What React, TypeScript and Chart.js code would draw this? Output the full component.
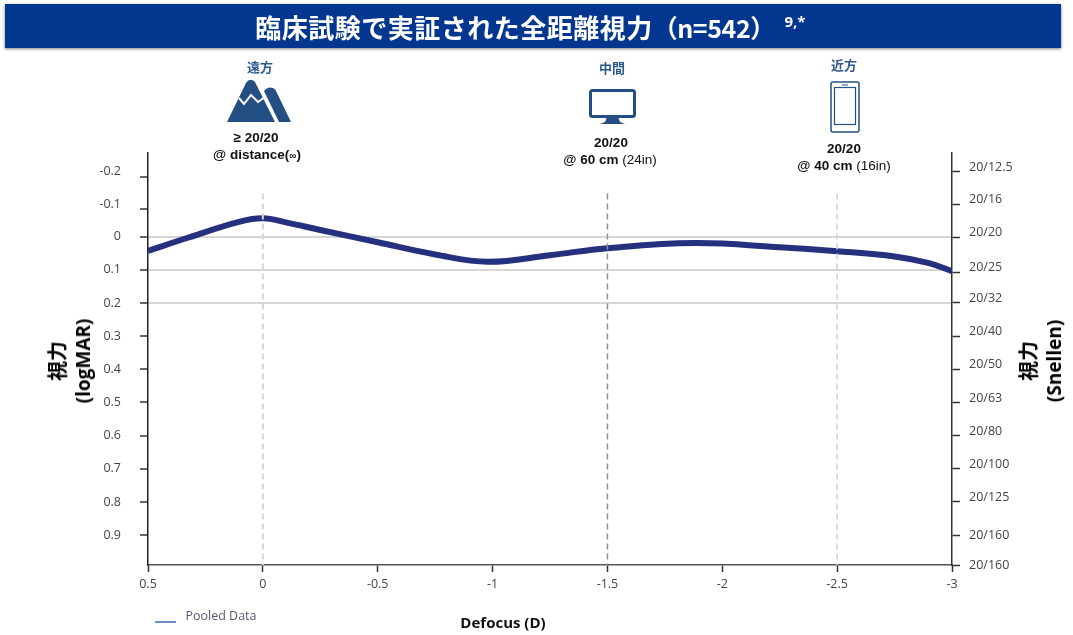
import { useEffect, useRef } from 'react'
import type { CSSProperties, ReactNode } from 'react'
import { Chart, registerables } from 'chart.js'

Chart.register(...registerables)

const defocus = [0.5, 0.32, 0.1, 0, -0.1, -0.25, -0.5, -0.75, -0.98, -1.25, -1.5, -1.88, -2.25, -2.5, -2.75, -2.9, -3]
const acuity = [0.043, 0.002, -0.045, -0.055, -0.043, -0.02, 0.017, 0.054, 0.076, 0.056, 0.035, 0.0196, 0.032, 0.044, 0.06, 0.08, 0.104]

// the top of the printed axis is squeezed: -0.2 and -0.1 sit lower than an even scale would put them
const logMarPositions = [-0.18, -0.083, 0, 0.1, 0.2, 0.3, 0.4, 0.5, 0.6, 0.7, 0.8, 0.9]
const logMarLabels = ['-0.2', '-0.1', '0', '0.1', '0.2', '0.3', '0.4', '0.5', '0.6', '0.7', '0.8', '0.9']
const snellenPositions = [-0.195, -0.098, 0.002, 0.107, 0.2, 0.3, 0.4, 0.5, 0.6, 0.7, 0.8, 0.9, 0.99]
const snellenLabels = ['20/12.5', '20/16', '20/20', '20/25', '20/32', '20/40', '20/50', '20/63', '20/80', '20/100', '20/125', '20/160', '20/160']
const solidGrid = [0, 0.1, 0.2]
const guideTop = -0.13
const yMin = -0.252
const yMax = 0.99

const jp = '"Noto Sans CJK JP", "Open Sans", sans-serif'
const sans = '"Open Sans", "Noto Sans", sans-serif'
const iconBlue = '#234f82'

function Text({ x, y, style, children }: { x: number; y: number; style?: CSSProperties; children: ReactNode }) {
  return (
    <div style={{ position: 'absolute', left: x, top: y, transform: 'translate(-50%, -50%)', whiteSpace: 'nowrap', ...style }}>
      {children}
    </div>
  )
}

export default function App() {
  const canvasRef = useRef<HTMLCanvasElement>(null)

  useEffect(() => {
    if (!canvasRef.current) return

    const guide = (x: number, color: string, width: number) => ({
      label: `guide ${x}`,
      data: [{ x, y: guideTop }, { x, y: yMax }],
      borderColor: color,
      borderWidth: width,
      borderDash: [6, 4],
      pointRadius: 0,
    })

    const chart = new Chart(canvasRef.current, {
      type: 'line',
      data: {
        datasets: [
          guide(0, '#d6d6d6', 2),
          guide(-1.5, '#909090', 1.5),
          guide(-2.5, '#d2d2d2', 1.5),
          {
            label: 'Pooled Data',
            data: defocus.map((x, i) => ({ x, y: acuity[i] })),
            borderColor: '#25307f',
            borderWidth: 6,
            tension: 0.4,
            pointRadius: 0,
          },
        ],
      },
      options: {
        responsive: false,
        animation: false,
        layout: { padding: { top: 153 } },
        plugins: { legend: { display: false }, tooltip: { enabled: false } },
        scales: {
          x: {
            type: 'linear',
            reverse: true,
            min: -3,
            max: 0.5,
            afterFit: scale => { scale.height = 70 },
            border: { color: '#555', width: 1.5 },
            grid: { drawOnChartArea: false, tickLength: 7, tickColor: '#333', tickWidth: 1.5 },
            ticks: {
              stepSize: 0.5,
              padding: 5,
              maxRotation: 0,
              color: '#444',
              font: { family: sans, size: 12.5 },
              callback: val => String(val),
            },
          },
          y: {
            type: 'linear',
            position: 'left',
            reverse: true,
            min: yMin,
            max: yMax,
            afterFit: scale => { scale.width = 148 },
            afterBuildTicks: scale => { scale.ticks = logMarPositions.map(value => ({ value })) },
            border: { color: '#222', width: 1.5 },
            grid: {
              color: ctx => (solidGrid.includes(ctx.tick?.value) ? '#d6d6d6' : 'transparent'),
              lineWidth: 2,
              tickLength: 8,
              tickColor: '#333',
              tickWidth: 1.5,
            },
            ticks: {
              padding: 19,
              color: '#444',
              font: { family: sans, size: 12.5, lineHeight: 0.8 },
              // negative labels sit a little above their ticks in the original
              callback: (_val, i) => (i < 2 ? [logMarLabels[i], ''] : logMarLabels[i]),
            },
          },
          y2: {
            type: 'linear',
            position: 'right',
            reverse: true,
            min: yMin,
            max: yMax,
            afterFit: scale => { scale.width = 121 },
            afterBuildTicks: scale => { scale.ticks = snellenPositions.map(value => ({ value })) },
            border: { color: '#333', width: 1.5 },
            grid: { drawOnChartArea: false, tickLength: 8, tickColor: '#333', tickWidth: 1.5 },
            ticks: {
              padding: 9,
              color: '#444',
              font: { family: sans, size: 12.5, lineHeight: 0.7 },
              callback: (_val, i) => (i < 11 ? [snellenLabels[i], ''] : snellenLabels[i]),
            },
          },
        },
      },
    })

    return () => chart.destroy()
  }, [])

  const axisTitle: CSSProperties = { fontFamily: sans, fontWeight: 700, fontSize: 19, lineHeight: '27px', color: '#000', textAlign: 'center' }
  const zone: CSSProperties = { fontFamily: jp, fontWeight: 700, fontSize: 13, color: '#2c5a8f' }
  const note: CSSProperties = { fontFamily: '"Liberation Sans", sans-serif', fontSize: 13.5, color: '#111' }

  return (
    <div style={{ position: 'absolute', left: 0, top: 0, width: 1073, height: 635, background: '#fff', overflow: 'hidden' }}>
      <canvas ref={canvasRef} width={1073} height={635} style={{ position: 'absolute', left: 0, top: 0 }} />

      {/* Banner */}
      <div style={{ position: 'absolute', left: 5, top: 4, width: 1056, height: 44, background: '#03378f', boxShadow: '0 1px 3px rgba(0,0,0,0.5)' }} />
      <Text x={515} y={26} style={{ fontFamily: jp, fontWeight: 700, fontSize: 26, letterSpacing: 0.5, color: '#fff' }}>
        臨床試験で実証された全距離視力<span style={{ fontSize: 25, letterSpacing: -0.4 }}>（n=542）</span>
      </Text>
      <Text x={795} y={21} style={{ fontFamily: sans, fontWeight: 700, fontSize: 15, color: '#fff' }}>9,*</Text>

      {/* Far */}
      <Text x={260} y={66} style={zone}>遠方</Text>
      <svg style={{ position: 'absolute', left: 226, top: 78 }} width={66} height={46} viewBox="0 0 66 46">
        <path d="M1 44 L20 5 Q24 -1 29 4 L49 44 Z" fill={iconBlue} />
        <path d="M38 13 Q42 8 47 10 Q49 11 50 13 L65 44 L53 44 Z" fill={iconBlue} />
        <polyline points="13,20 18,26 25,17 32,24 39,19" fill="none" stroke="#fff" strokeWidth={2} />
      </svg>
      <Text x={256} y={137} style={{ ...note, fontWeight: 700 }}>≥ 20/20</Text>
      <Text x={257} y={154} style={{ ...note, fontWeight: 700 }}>@ distance(<span style={{ fontSize: 10 }}>∞</span>)</Text>

      {/* Intermediate */}
      <Text x={612} y={67} style={zone}>中間</Text>
      <svg style={{ position: 'absolute', left: 589, top: 88 }} width={47} height={38} viewBox="0 0 47 38">
        <rect x={1.5} y={2.5} width={44} height={26} rx={2} fill="none" stroke={iconBlue} strokeWidth={3} />
        <path d="M18 29 L29 29 L31 34 L36 36 L11 36 L16 34 Z" fill={iconBlue} />
      </svg>
      <Text x={611} y={142} style={{ ...note, fontWeight: 700 }}>20/20</Text>
      <Text x={610} y={159} style={note}><b>@ 60 cm</b> (24in)</Text>

      {/* Near */}
      <Text x={844} y={64} style={zone}>近方</Text>
      <svg style={{ position: 'absolute', left: 830, top: 81 }} width={30} height={52} viewBox="0 0 30 52">
        <rect x={1} y={1} width={28} height={50} rx={2} fill="none" stroke={iconBlue} strokeWidth={1.5} />
        <rect x={4.5} y={6.5} width={21} height={37} fill="none" stroke={iconBlue} strokeWidth={1.2} />
        <line x1={12} y1={4} x2={18} y2={4} stroke={iconBlue} strokeWidth={1} />
      </svg>
      <Text x={844} y={148} style={{ ...note, fontWeight: 700 }}>20/20</Text>
      <Text x={844} y={165} style={note}><b>@ 40 cm</b> (16in)</Text>

      {/* Axis titles */}
      <Text x={70} y={361} style={{ ...axisTitle, transform: 'translate(-50%, -50%) rotate(-90deg)' }}>
        <div style={{ fontFamily: jp, fontSize: 20 }}>視力</div>
        <div>(logMAR)</div>
      </Text>
      <Text x={1041} y={361} style={{ ...axisTitle, transform: 'translate(-50%, -50%) rotate(-90deg)' }}>
        <div style={{ fontFamily: jp, fontSize: 20 }}>視力</div>
        <div>(Snellen)</div>
      </Text>
      <Text x={503} y={622} style={{ fontFamily: sans, fontWeight: 700, fontSize: 15, color: '#111' }}>Defocus (D)</Text>

      {/* Legend */}
      <div style={{ position: 'absolute', left: 155, top: 621, width: 21, height: 2, background: '#6f8fc4' }} />
      <Text x={221} y={615} style={{ fontFamily: sans, fontSize: 12.5, color: '#555a70' }}>Pooled Data</Text>
    </div>
  )
}
